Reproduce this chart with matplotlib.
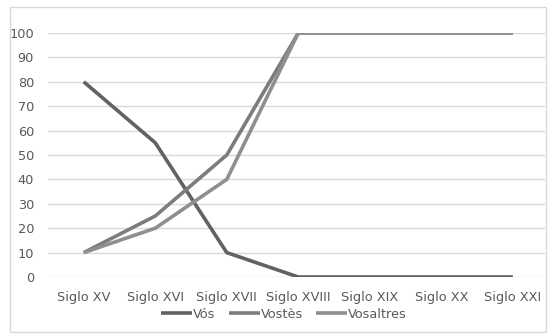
import matplotlib
matplotlib.use("Agg")
import matplotlib.pyplot as plt
from matplotlib.patches import Rectangle

siglos = ["Siglo XV", "Siglo XVI", "Siglo XVII", "Siglo XVIII", "Siglo XIX", "Siglo XX", "Siglo XXI"]
vos = [80, 55, 10, 0, 0, 0, 0]
vostes = [10, 25, 50, 100, 100, 100, 100]
vosaltres = [10, 20, 40, 100, 100, 100, 100]

series = [("Vós", vos, "#626262"), ("Vostès", vostes, "#7c7c7c"), ("Vosaltres", vosaltres, "#8f8f8f")]

plt.rcParams["font.family"] = ["Liberation Sans Narrow", "DejaVu Sans"]
TXT = "#595959"
FS = 9.3

fig = plt.figure(figsize=(5.49, 3.34), dpi=100)
fig.patch.set_facecolor("white")
ax = fig.add_axes([48 / 549, 1 - 277 / 334, 497 / 549, 244 / 334])

x = list(range(len(siglos)))
for name, vals, col in series:
  ax.plot(x, vals, color=col, lw=2.6, label=name, solid_capstyle="butt", zorder=3)

ax.set_xlim(-0.5, 6.45)
ax.set_ylim(0, 100)
ax.set_yticks(range(0, 101, 10))
ax.set_xticks(x)
ax.set_xticklabels(siglos)
ax.grid(axis="y", color="#d9d9d9", lw=1)
ax.set_axisbelow(True)
for s in ax.spines.values():
  s.set_visible(False)
ax.tick_params(length=0, colors=TXT, labelsize=FS)
ax.tick_params(axis="y", pad=10)
ax.tick_params(axis="x", pad=10)

ax.legend(loc="upper center", bbox_to_anchor=(0.475, -0.1), ncol=3, frameon=False,
          fontsize=FS, labelcolor=TXT, handlelength=2.4, columnspacing=1.0,
          handletextpad=0.1, borderpad=0)

# outer chart border
fig.patches.append(Rectangle((10 / 549, 0.005), 536 / 549, 1 - 7 / 334 - 0.005,
                             transform=fig.transFigure, fill=False, ec="#d9d9d9", lw=1))

fig.savefig("out.png", dpi=100)
